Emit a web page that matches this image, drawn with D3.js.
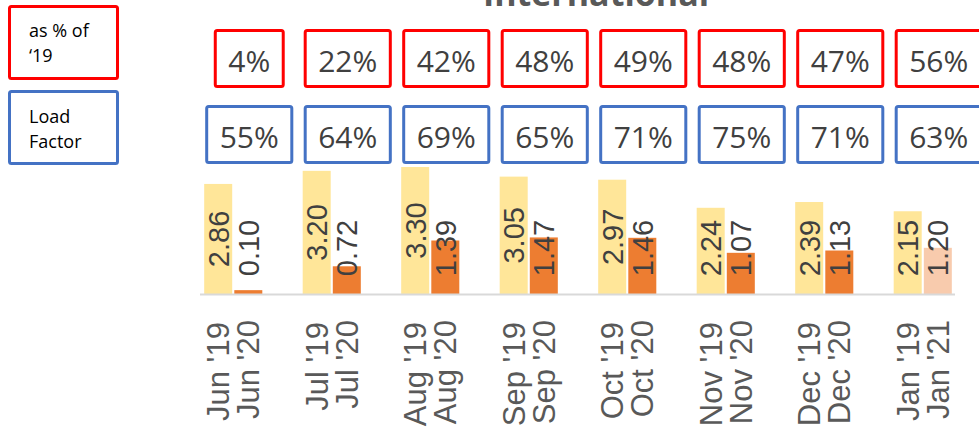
<!DOCTYPE html>
<html>
<head>
<meta charset="utf-8">
<script src="https://cdn.jsdelivr.net/npm/d3@7"></script>
<style>
  body { margin: 0; background: #fff; }
  svg { display: block; }
</style>
</head>
<body>
<div id="chart"></div>
<script>
// values
const months = ["Jun", "Jul", "Aug", "Sep", "Oct", "Nov", "Dec", "Jan"];
const labels19 = ["Jun '19", "Jul '19", "Aug '19", "Sep '19", "Oct '19", "Nov '19", "Dec '19", "Jan '19"];
const labels20 = ["Jun '20", "Jul '20", "Aug '20", "Sep '20", "Oct '20", "Nov '20", "Dec '20", "Jan '21"];
const values19 = [2.86, 3.20, 3.30, 3.05, 2.97, 2.24, 2.39, 2.15];
const values20 = [0.10, 0.72, 1.39, 1.47, 1.46, 1.07, 1.13, 1.20];
const pctOf19 = ["4%", "22%", "42%", "48%", "49%", "48%", "47%", "56%"];
const loadFactor = ["55%", "64%", "69%", "65%", "71%", "75%", "71%", "63%"];
const partialMonth = "Jan"; // last month drawn lighter
const legendItems = [["as % of", "\u201819"], ["Load", "Factor"]];

const width = 979;
const height = 432;

const svg = d3.select("#chart").append("svg")
    .attr("width", width)
    .attr("height", height);

// group scale + inner scale for the two years
const x0 = d3.scaleBand()
    .domain(months)
    .range([184, 972])
    .paddingInner(0.41)
    .paddingOuter(0.205);

const x1 = d3.scaleBand()
    .domain(["y19", "y20"])
    .range([0, x0.bandwidth()])
    .paddingInner(0.07);

const y = d3.scaleLinear()
    .domain([0, 3.3])
    .range([294, 167]);

const rows = months.map((m, i) => ({
    month: m,
    bars: [
        { key: "y19", value: values19[i], label: labels19[i] },
        { key: "y20", value: values20[i], label: labels20[i] }
    ]
}));

function barFill(m, d) {
    if (d.key === "y19") return "#ffe699";
    return m === partialMonth ? "#f8cbad" : "#ed7d31";
}

// title (cut off at the top, as in the original)
svg.append("text")
    .attr("x", 596)
    .attr("y", 6)
    .attr("text-anchor", "middle")
    .attr("font-family", "Open Sans, sans-serif")
    .attr("font-weight", "bold")
    .attr("font-size", 34)
    .attr("fill", "#595959")
    .text("International");

// legend boxes on the left
const legend = svg.append("g");
legend.selectAll("rect")
    .data(legendItems)
    .enter().append("rect")
    .attr("x", 9.5)
    .attr("y", (d, i) => 6.5 + i * 85)
    .attr("width", 108)
    .attr("height", 72)
    .attr("rx", 2)
    .attr("fill", "#fff")
    .attr("stroke", (d, i) => i === 0 ? "#ff0000" : "#4472c4")
    .attr("stroke-width", 3);

legend.selectAll("text")
    .data(legendItems)
    .enter().append("text")
    .attr("font-family", "Open Sans, sans-serif")
    .attr("font-size", 18)
    .attr("fill", "#000")
    .each(function(d, i) {
        d3.select(this).selectAll("tspan")
            .data(d)
            .enter().append("tspan")
            .attr("x", 29)
            .attr("y", (t, j) => 37 + i * 86 + j * 25)
            .text(t => t);
    });

// percentage boxes above each month
function boxRow(values, top, color) {
    const g = svg.append("g");
    const cells = g.selectAll("g")
        .data(values)
        .enter().append("g")
        .attr("transform", (d, i) => `translate(${x0(months[i]) + x0.bandwidth() / 2 + 16},${top})`);

    cells.append("text")
        .attr("text-anchor", "middle")
        .attr("y", 41)
        .attr("font-family", "Open Sans, sans-serif")
        .attr("font-size", 30)
        .attr("fill", "#404040")
        .text(d => d);

    cells.insert("rect", "text")
        .each(function() {
            const w = this.parentNode.querySelector("text").getComputedTextLength() + 26;
            d3.select(this)
                .attr("x", -w / 2)
                .attr("width", w);
        })
        .attr("y", 0)
        .attr("height", 56)
        .attr("rx", 2)
        .attr("fill", "#fff")
        .attr("stroke", color)
        .attr("stroke-width", 3);
}
boxRow(pctOf19, 30.5, "#ff0000");
boxRow(loadFactor, 106.5, "#4472c4");

// bars
const groups = svg.append("g")
    .selectAll("g")
    .data(rows)
    .enter().append("g")
    .attr("transform", d => `translate(${x0(d.month)},0)`);

groups.selectAll("rect")
    .data(d => d.bars.map(b => Object.assign({ month: d.month }, b)))
    .enter().append("rect")
    .attr("x", d => x1(d.key))
    .attr("width", x1.bandwidth())
    .attr("y", d => y(d.value))
    .attr("height", d => y(0) - y(d.value))
    .attr("fill", d => barFill(d.month, d));

// axis line
svg.append("line")
    .attr("x1", 200)
    .attr("x2", 955)
    .attr("y1", y(0) + 0.5)
    .attr("y2", y(0) + 0.5)
    .attr("stroke", "#d9d9d9")
    .attr("stroke-width", 2);

// value labels, rotated, kept above the axis
groups.selectAll("text.value")
    .data(d => d.bars)
    .enter().append("text")
    .attr("class", "value")
    .attr("transform", d => {
        const cx = x1(d.key) + x1.bandwidth() / 2;
        const cy = Math.min((y(d.value) + y(0)) / 2, y(0) - 46);
        return `translate(${cx},${cy}) rotate(-90)`;
    })
    .attr("text-anchor", "middle")
    .attr("dy", "0.36em")
    .attr("font-family", "Liberation Sans, Arial, sans-serif")
    .attr("font-size", 29)
    .attr("fill", "#404040")
    .text(d => d.value.toFixed(2));

// category labels, rotated
groups.selectAll("text.cat")
    .data(d => d.bars)
    .enter().append("text")
    .attr("class", "cat")
    .attr("transform", d => `translate(${x1(d.key) + x1.bandwidth() / 2},${d.key === "y19" ? 322 : 320}) rotate(-90)`)
    .attr("text-anchor", "end")
    .attr("dy", "0.36em")
    .attr("font-family", "Liberation Sans, Arial, sans-serif")
    .attr("font-size", 31)
    .attr("fill", "#595959")
    .text(d => d.label);
</script>
</body>
</html>
